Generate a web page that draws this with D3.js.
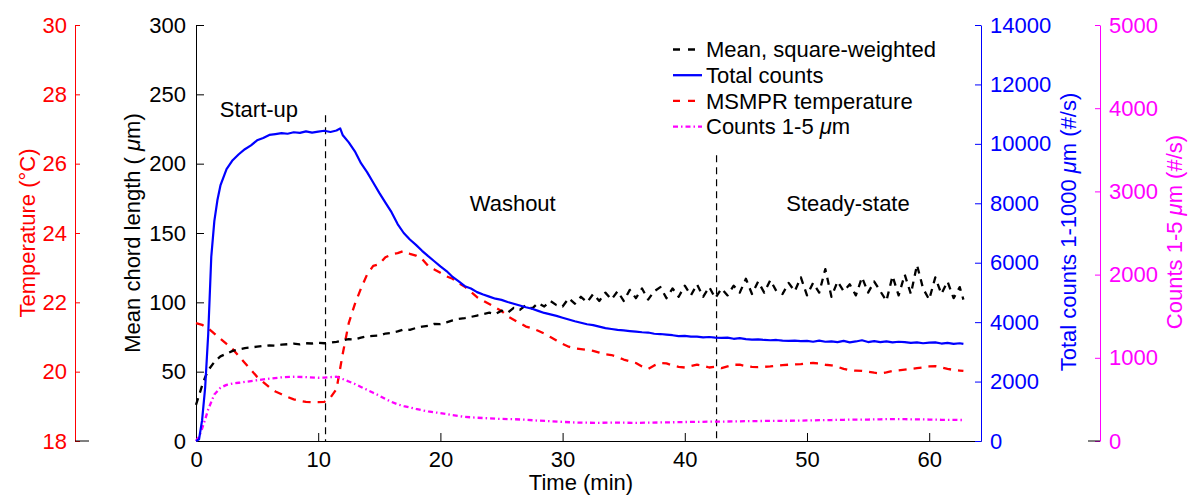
<!DOCTYPE html>
<html>
<head>
<meta charset="utf-8">
<script src="https://cdn.jsdelivr.net/npm/d3@7"></script>
<style>
  html, body { margin: 0; padding: 0; background: #fff; }
  svg { display: block; font-family: "Liberation Sans", Arial, Helvetica, sans-serif; }
</style>
</head>
<body>
<svg id="chart" width="1190" height="499"></svg>
<script>
// ---- data: [time (min), value] ----
const chordMean = [ // mean chord length, square-weighted (µm)
  [0,26],[0.25,33],[0.5,40],[0.75,46],
  [1,51],[1.5,57],[2,61],[2.5,63],[3,65],[3.5,66],[4,67],[4.5,67.5],
  [5,68],[5.5,68.5],[6,69],[6.5,68.7],[7,69.5],[7.5,69.8],[8,70.2],[8.5,69.7],[9,70.5],[9.5,70.3],
  [10,70.8],[10.5,70.5],[11,70.9],[11.5,71.5],[12,72.5],[12.5,73.5],[13,73.2],[13.5,74.5],[14,75.5],[14.5,75.8],
  [15,76],[15.5,77.5],[16,78],[16.5,79],[17,80.5],[17.5,80.2],[18,81.5],[18.5,82.5],[19,83],[19.5,84.5],
  [20,84.3],[20.5,85.5],[21,87],[21.5,88],[22,88.6],[22.5,89.5],[23,90.5],[23.5,91.5],[24,92.5],[24.5,91.5],
  [25,94],[25.5,92.5],[26,96],[26.5,94.5],[27,98],[27.5,95.5],[28,99.5],[28.5,97],[29,101],[29.5,98],
  [30,97],[30.5,103],[31,99],[31.5,104],[32,100],[32.5,106],[33,101],[33.5,107],[34,102],[34.5,108],
  [35,101],[35.5,109],[36,103],[36.5,110],[37,102],[37.5,108],[38,111],[38.5,103],[39,110],[39.5,104],
  [40,112],[40.5,105],[41,113],[41.5,104],[42,111],[42.5,103],[43,110],[43.5,105],[44,112],[44.5,107],
  [45,117],[45.5,106],[46,115],[46.5,107],[47,116],[47.5,108],[48,106],[48.5,114],[49,108],[49.5,118],
  [50,105],[50.5,114],[51,107],[51.5,124],[52,104],[52.5,115],[53,108],[53.5,113],[54,105],[54.5,118],
  [55,107],[55.5,115],[56,108],[56.5,101],[57,119],[57.5,105],[58,120],[58.5,106],[59,127],[59.5,110],
  [60,102],[60.5,118],[61,106],[61.5,115],[62,103],[62.5,111],[62.8,102]
];

const totalCounts = [ // total counts 1-1000 µm (#/s)
  [0,0],[0.25,60],[0.5,700],[0.75,1800],[1,3600],[1.25,6200],[1.5,7400],[1.75,8100],
  [2,8600],[2.5,9150],[3,9450],[3.5,9650],[4,9820],[4.5,9950],
  [5,10120],[5.5,10200],[6,10300],[6.5,10330],[7,10360],[7.5,10340],[8,10390],[8.5,10370],[9,10420],[9.5,10380],
  [10,10410],[10.5,10440],[11,10400],[11.5,10450],[11.8,10520],[12,10300],[12.5,10050],[13,9750],[13.5,9350],[14,9050],[14.5,8700],
  [15,8350],[15.5,8020],[16,7700],[16.5,7300],[17,7000],[17.5,6780],[18,6600],[18.5,6400],[19,6220],[19.5,6050],
  [20,5880],[20.5,5720],[21,5520],[21.5,5370],[22,5210],[22.5,5130],[23,5010],[23.5,4930],[24,4860],[24.5,4790],
  [25,4750],[25.5,4680],[26,4620],[26.5,4560],[27,4500],[27.5,4450],[28,4380],[28.5,4310],[29,4260],[29.5,4210],
  [30,4150],[30.5,4090],[31,4030],[31.5,3980],[32,3930],[32.5,3900],[33,3850],[33.5,3800],[34,3770],[34.5,3740],
  [35,3720],[35.5,3700],[36,3680],[36.5,3660],[37,3650],[37.5,3610],[38,3600],[38.5,3580],[39,3560],[39.5,3530],
  [40,3540],[40.5,3510],[41,3510],[41.5,3490],[42,3500],[42.5,3480],[43,3470],[43.5,3480],[44,3440],[44.5,3460],
  [45,3430],[45.5,3410],[46,3420],[46.5,3400],[47,3390],[47.5,3400],[48,3380],[48.5,3370],[49,3380],[49.5,3360],
  [50,3370],[50.5,3340],[51,3380],[51.5,3340],[52,3350],[52.5,3330],[53,3370],[53.5,3320],[54,3350],[54.5,3390],
  [55,3330],[55.5,3360],[56,3330],[56.5,3350],[57,3320],[57.5,3340],[58,3330],[58.5,3300],[59,3320],[59.5,3290],
  [60,3310],[60.5,3320],[61,3280],[61.5,3300],[62,3270],[62.5,3290],[62.8,3270]
];

const temperature = [ // MSMPR temperature (°C)
  [0,21.4],[0.5,21.35],[1,21.25],[1.5,21.1],[2,20.95],[2.5,20.8],[3,20.65],[3.5,20.45],[4,20.25],[4.5,20.05],
  [5,19.85],[5.5,19.7],[6,19.55],[6.5,19.43],[7,19.35],[7.5,19.27],[8,19.2],[8.5,19.16],[9,19.13],[9.5,19.12],
  [10,19.12],[10.5,19.13],[11,19.25],[11.5,19.5],[12,20.5],[12.5,21.4],[13,21.95],[13.5,22.4],[14,22.8],[14.5,23.05],
  [15,23.1],[15.5,23.3],[16,23.38],[16.5,23.42],[17,23.48],[17.5,23.4],[18,23.35],[18.5,23.25],[19,23.05],[19.5,22.95],
  [20,22.85],[20.5,22.75],[21,22.68],[21.5,22.55],[22,22.45],[22.5,22.3],[23,22.15],[23.5,22.05],[24,21.95],[24.5,21.85],
  [25,21.75],[25.5,21.6],[26,21.5],[26.5,21.4],[27,21.3],[27.5,21.25],[28,21.18],[28.5,21.1],[29,21.0],[29.5,20.9],
  [30,20.8],[30.5,20.72],[31,20.67],[31.5,20.65],[32,20.63],[32.5,20.6],[33,20.55],[33.5,20.5],[34,20.48],[34.5,20.42],
  [35,20.35],[35.5,20.3],[36,20.25],[36.5,20.15],[37,20.08],[37.5,20.18],[38,20.25],[38.5,20.24],[39,20.18],[39.5,20.14],
  [40,20.12],[40.5,20.16],[41,20.2],[41.5,20.17],[42,20.12],[42.5,20.14],[43,20.1],[43.5,20.15],[44,20.2],[44.5,20.2],
  [45,20.16],[45.5,20.14],[46,20.13],[46.5,20.14],[47,20.15],[47.5,20.17],[48,20.19],[48.5,20.2],[49,20.21],[49.5,20.22],
  [50,20.24],[50.5,20.25],[51,20.24],[51.5,20.2],[52,20.18],[52.5,20.14],[53,20.08],[53.5,20.04],[54,20.03],[54.5,20.02],
  [55,20.0],[55.5,19.97],[56,19.95],[56.5,19.98],[57,20.02],[57.5,20.04],[58,20.06],[58.5,20.08],[59,20.1],[59.5,20.12],
  [60,20.15],[60.5,20.16],[61,20.12],[61.5,20.08],[62,20.05],[62.5,20.03],[62.8,20.02]
];

const fineCounts = [ // counts 1-5 µm (#/s)
  [0,0],[0.25,50],[0.5,150],[0.75,260],[1,380],[1.5,560],[2,640],[2.5,675],[3,690],[3.5,700],[4,710],
  [5,730],[6,750],[7,765],[8,772],[9,768],[10,760],[10.5,762],[11,768],[11.5,772],[12,745],[12.5,715],
  [13,685],[13.5,650],[14,615],[14.5,580],[15,545],[15.5,505],[16,470],[16.5,440],[17,420],[18,385],[19,355],
  [20,335],[21,310],[22,290],[23,280],[24,272],[25,265],[26,262],[27,255],[28,245],[29,238],
  [30,230],[31,222],[32,220],[33,218],[34,222],[35,220],[36,218],[37,221],[38,223],[39,225],
  [40,228],[41,230],[42,232],[43,233],[44,236],[45,238],[46,240],[47,242],[48,243],[49,244],
  [50,247],[51,250],[52,252],[53,255],[54,258],[55,258],[56,261],[57,264],[58,262],[59,260],
  [60,258],[61,255],[62,254],[62.8,252]
];

const timeTicks   = [0, 10, 20, 30, 40, 50, 60];
const chordTicks  = [0, 50, 100, 150, 200, 250, 300];
const tempTicks   = [18, 20, 22, 24, 26, 28, 30];
const totalTicks  = [0, 2000, 4000, 6000, 8000, 10000, 12000, 14000];
const fineTicks   = [0, 1000, 2000, 3000, 4000, 5000];
const phaseBounds = [10.6, 42.6];
const phaseNames  = ["Start-up", "Washout", "Steady-state"];

// ---- layout ----
const FONT = 22;
const L = 196, R = 981, T = 25, B = 441;
const svg = d3.select("#chart");
const plain = d3.format("d");

const x      = d3.scaleLinear().domain([0, 64.24]).range([L, R]);
const yChord = d3.scaleLinear().domain([0, 300]).range([B, T]);
const yTemp  = d3.scaleLinear().domain([18, 30]).range([B, T]);
const yTotal = d3.scaleLinear().domain([0, 14000]).range([B, T]);
const yFine  = d3.scaleLinear().domain([0, 5000]).range([B, T]);

const BLACK = "#000000", BLUE = "#0000ff", RED = "#ff0000", MAGENTA = "#ff00ff";

function styleAxis(g, color) {
  g.attr("font-size", FONT).attr("font-family", null);
  g.select(".domain").attr("stroke", color).attr("stroke-width", 1);
  g.selectAll(".tick line").attr("stroke", color).attr("stroke-width", 1);
  g.selectAll(".tick text").attr("fill", color);
}

// temperature axis (far left)
svg.append("g").attr("transform", `translate(75,0)`)
  .call(d3.axisLeft(yTemp).tickValues(tempTicks).tickFormat(plain).tickSize(-5).tickSizeOuter(0).tickPadding(8))
  .call(g => styleAxis(g, RED));
svg.append("line").attr("x1", 75).attr("x2", 89).attr("y1", B).attr("y2", B)
  .attr("stroke", BLACK).attr("stroke-width", 1);

// fine counts axis (far right)
svg.append("g").attr("transform", `translate(1100,0)`)
  .call(d3.axisRight(yFine).tickValues(fineTicks).tickFormat(plain).tickSize(-5).tickSizeOuter(0).tickPadding(9))
  .call(g => styleAxis(g, MAGENTA));
svg.append("line").attr("x1", 1088).attr("x2", 1100).attr("y1", B).attr("y2", B)
  .attr("stroke", BLACK).attr("stroke-width", 1);

// main axes
svg.append("g").attr("transform", `translate(0,${B})`)
  .call(d3.axisBottom(x).tickValues(timeTicks).tickFormat(plain).tickSize(-8).tickSizeOuter(0).tickPadding(10))
  .call(g => styleAxis(g, BLACK));
svg.append("g").attr("transform", `translate(${L},0)`)
  .call(d3.axisLeft(yChord).tickValues(chordTicks).tickFormat(plain).tickSize(-8).tickSizeOuter(0).tickPadding(10))
  .call(g => styleAxis(g, BLACK));
svg.append("g").attr("transform", `translate(${R},0)`)
  .call(d3.axisRight(yTotal).tickValues(totalTicks).tickFormat(plain).tickSize(-6).tickSizeOuter(0).tickPadding(9))
  .call(g => styleAxis(g, BLUE));

// axis titles
function rotTitle(cx, cy, color, parts) {
  const t = svg.append("text")
    .attr("transform", `translate(${cx},${cy}) rotate(-90)`)
    .attr("text-anchor", "middle").attr("font-size", FONT).attr("fill", color);
  parts.forEach(p => {
    const s = t.append("tspan").text(p.t);
    if (p.i) s.attr("font-style", "italic");
  });
}
rotTitle(35, 233, RED, [{t: "Temperature (°C)"}]);
rotTitle(140, 233, BLACK, [{t: "Mean chord length ( "}, {t: "μ", i: true}, {t: "m)"}]);
rotTitle(1076, 232, BLUE, [{t: "Total counts 1-1000 "}, {t: "μ", i: true}, {t: "m (#/s)"}]);
rotTitle(1182, 232, MAGENTA, [{t: "Counts 1-5 "}, {t: "μ", i: true}, {t: "m (#/s)"}]);

svg.append("text").attr("x", 581).attr("y", 490).attr("text-anchor", "middle")
  .attr("font-size", FONT).attr("fill", BLACK).text("Time (min)");

// phase boundaries
const boundaryTop = [235, 206]; // upper ends, in chord-length units
phaseBounds.forEach((b, i) => {
  svg.append("line")
    .attr("x1", x(b)).attr("x2", x(b))
    .attr("y1", yChord(boundaryTop[i])).attr("y2", B)
    .attr("stroke", BLACK).attr("stroke-width", 1.2)
    .attr("stroke-dasharray", "7,5");
});

// phase labels
const phasePos = [[1.95, 234], [22.4, 166], [48.3, 166]];
phaseNames.forEach((name, i) => {
  svg.append("text")
    .attr("x", x(phasePos[i][0])).attr("y", yChord(phasePos[i][1]))
    .attr("font-size", FONT).attr("fill", BLACK).text(name);
});

// series
const series = [
  {data: temperature, y: yTemp,  color: RED,     dash: "8,7",       w: 2.3},
  {data: fineCounts,  y: yFine,  color: MAGENTA, dash: "5,3,1.5,3", w: 2.3},
  {data: chordMean,   y: yChord, color: BLACK,   dash: "7,6",       w: 2.3},
  {data: totalCounts, y: yTotal, color: BLUE,    dash: null,        w: 2.2}
];
series.forEach(s => {
  const line = d3.line().x(d => x(d[0])).y(d => s.y(d[1]));
  svg.append("path").datum(s.data)
    .attr("d", line)
    .attr("fill", "none")
    .attr("stroke", s.color)
    .attr("stroke-width", s.w)
    .attr("stroke-linejoin", "round")
    .attr("stroke-dasharray", s.dash);
});

// legend
const legendItems = [
  {color: BLACK,   dash: "7,8",       parts: [{t: "Mean, square-weighted"}]},
  {color: BLUE,    dash: null,        parts: [{t: "Total counts"}]},
  {color: RED,     dash: "7,8",       parts: [{t: "MSMPR temperature"}]},
  {color: MAGENTA, dash: "5,3,1.5,3", parts: [{t: "Counts 1-5 "}, {t: "μ", i: true}, {t: "m"}]}
];
legendItems.forEach((it, i) => {
  const cy = 49.5 + i * 25.7;
  svg.append("line")
    .attr("x1", 673).attr("x2", 702).attr("y1", cy).attr("y2", cy)
    .attr("stroke", it.color).attr("stroke-width", 2.3)
    .attr("stroke-dasharray", it.dash);
  const t = svg.append("text").attr("x", 706).attr("y", cy + 7.8)
    .attr("font-size", FONT).attr("fill", BLACK);
  it.parts.forEach(p => {
    const s = t.append("tspan").text(p.t);
    if (p.i) s.attr("font-style", "italic");
  });
});
</script>
</body>
</html>
